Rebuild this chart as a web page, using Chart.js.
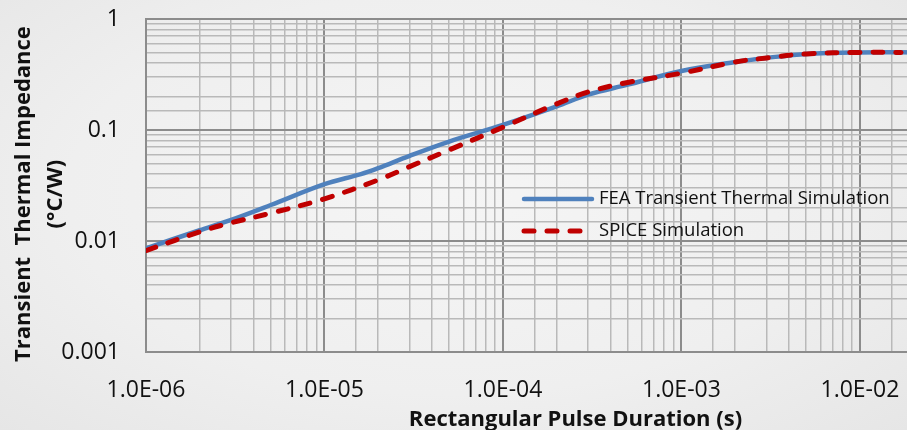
<!DOCTYPE html>
<html>
<head>
<meta charset="utf-8">
<script src="https://cdn.jsdelivr.net/npm/chart.js@4"></script>
<style>
  html, body { margin: 0; padding: 0; overflow: hidden; }
  body {
    width: 907px; height: 430px;
    background: radial-gradient(ellipse at 50% 45%, #f5f5f5 0%, #efefef 60%, #e6e6e6 100%);
  }
  /* plot runs past the right edge of the window, as in the cropped original */
  #wrap { width: 1005px; height: 430px; }
</style>
</head>
<body>
<div id="wrap"><canvas id="zthChart"></canvas></div>
<script>
// pulse duration (s) and transient thermal impedance (°C/W)
const feaTime = [1e-6, 2e-6, 3e-6, 5e-6, 1e-5, 1.6e-5, 2e-5, 3e-5, 5e-5, 1e-4, 2e-4, 3e-4, 5e-4, 1e-3, 2e-3, 3e-3, 5e-3, 1e-2, 2.2e-2];
const feaZth  = [0.0086, 0.0125, 0.0155, 0.0211, 0.0325, 0.040, 0.0453, 0.0585, 0.0787, 0.111, 0.163, 0.208, 0.256, 0.340, 0.410, 0.446, 0.485, 0.500, 0.500];

const spiceTime = [1e-6, 2e-6, 3e-6, 5e-6, 1e-5, 2e-5, 3e-5, 5e-5, 1e-4, 2e-4, 3e-4, 5e-4, 1e-3, 2e-3, 3e-3, 5e-3, 1e-2, 1.7e-2];
const spiceZth  = [0.0082, 0.0121, 0.0146, 0.0178, 0.0240, 0.0355, 0.0468, 0.0662, 0.106, 0.172, 0.220, 0.268, 0.325, 0.410, 0.446, 0.485, 0.500, 0.500];

const xMin = 1e-6, xMax = 0.065;
const yMin = 0.001, yMax = 1;

const FONT = '"Open Sans", sans-serif';

const isDecade = v => Math.abs(Math.log10(v) - Math.round(Math.log10(v))) < 1e-6;

const fmtExp = v => {
  const [m, e] = v.toExponential(1).split('e');
  const n = Math.abs(parseInt(e, 10));
  return m + 'E' + (e[0] === '-' ? '-' : '+') + String(n).padStart(2, '0');
};

const toPoints = (xs, ys) => xs.map((x, i) => ({ x: x, y: ys[i] }));

const gridColor = ctx => isDecade(ctx.tick.value) ? '#8c8c8c' : '#b9b9b9';
const gridWidth = ctx => isDecade(ctx.tick.value) ? 2 : 1.5;

// legend sitting inside the plot, Excel style
const insideLegend = {
  id: 'insideLegend',
  afterDraw(chart) {
    const ctx = chart.ctx;
    const rows = [199, 231];
    chart.data.datasets.forEach((ds, i) => {
      const y = rows[i];
      ctx.save();
      ctx.strokeStyle = ds.borderColor;
      ctx.lineWidth = ds.borderWidth;
      ctx.lineCap = 'round';
      ctx.setLineDash(ds.borderDash || []);
      ctx.beginPath();
      ctx.moveTo(524, y);
      ctx.lineTo(592, y);
      ctx.stroke();
      ctx.setLineDash([]);
      ctx.fillStyle = '#111';
      ctx.font = '18.5px ' + FONT;
      ctx.textBaseline = 'middle';
      ctx.fillText(ds.label, 599, y);
      ctx.restore();
    });
  }
};

new Chart(document.getElementById('zthChart'), {
  type: 'line',
  data: {
    datasets: [
      {
        label: 'FEA Transient Thermal Simulation',
        data: toPoints(feaTime, feaZth),
        borderColor: '#4f81bd',
        borderWidth: 4.5,
        pointRadius: 0,
        tension: 0.35,
        order: 2
      },
      {
        label: 'SPICE Simulation',
        data: toPoints(spiceTime, spiceZth),
        borderColor: '#c00000',
        borderWidth: 5,
        borderDash: [10, 13],
        borderCapStyle: 'round',
        pointRadius: 0,
        tension: 0.35,
        order: 1
      }
    ]
  },
  options: {
    responsive: true,
    maintainAspectRatio: false,
    animation: false,
    layout: { padding: { top: 19, right: 0, left: 0, bottom: 0 } },
    plugins: {
      legend: { display: false },
      tooltip: { enabled: false }
    },
    scales: {
      x: {
        type: 'logarithmic',
        min: xMin,
        max: xMax,
        afterFit: s => { s.height = 78; },
        // gap under the axis comes from invisible tick marks, so the plot keeps its full width
        grid: { color: gridColor, lineWidth: gridWidth, drawTicks: true, tickLength: 25, tickColor: 'rgba(0,0,0,0)' },
        border: { color: '#8c8c8c', width: 2 },
        ticks: {
          autoSkip: false,
          maxRotation: 0,
          padding: 0,
          color: '#111',
          font: { family: FONT, size: 23 },
          callback: v => isDecade(v) && v < xMax ? fmtExp(v) : ''
        },
        title: {
          display: true,
          text: 'Rectangular Pulse Duration (s)',
          color: '#111',
          font: { family: FONT, size: 22, weight: 'bold', lineHeight: 0.9 },
          padding: { top: 0, bottom: 0 }
        }
      },
      y: {
        type: 'logarithmic',
        min: yMin,
        max: yMax,
        afterFit: s => { s.width = 146; },
        grid: { color: gridColor, lineWidth: gridWidth, drawTicks: true, tickLength: 26, tickColor: 'rgba(0,0,0,0)' },
        border: { color: '#8c8c8c', width: 2 },
        ticks: {
          autoSkip: false,
          padding: 0,
          color: '#111',
          font: { family: FONT, size: 23 },
          callback: v => isDecade(v) ? String(v) : ''
        },
        title: {
          display: true,
          text: ['Transient  Thermal Impedance   ', '(°C/W)   '],
          color: '#111',
          font: { family: FONT, size: 22, weight: 'bold', lineHeight: 1.48 },
          padding: { top: 7, bottom: 0 }
        }
      }
    }
  },
  plugins: [insideLegend]
});
</script>
</body>
</html>
